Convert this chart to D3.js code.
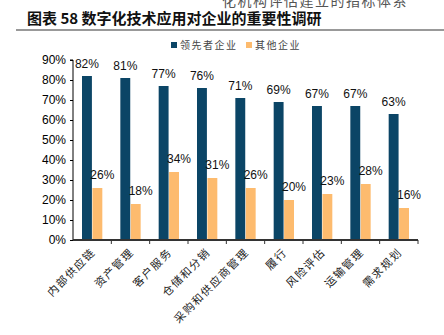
<!DOCTYPE html>
<html>
<head>
<meta charset="utf-8">
<script src="https://cdn.jsdelivr.net/npm/d3@7"></script>
<style>
  html, body { margin: 0; padding: 0; background: #fff; }
  svg { display: block; }
</style>
</head>
<body>
<svg id="chart" width="444" height="335"></svg>
<script>
// Survey categories and the share of firms rating each digital application as important
const categories = ["内部供应链", "资产管理", "客户服务", "仓储和分销", "采购和供应商管理", "履行", "风险评估", "运输管理", "需求规划"];
const leaders = [82, 81, 77, 76, 71, 69, 67, 67, 63];
const others = [26, 18, 34, 31, 26, 20, 23, 28, 16];
const seriesNames = ["领先者企业", "其他企业"];
const yTicks = [0, 10, 20, 30, 40, 50, 60, 70, 80, 90];

const colors = ["#0b4566", "#fdbb6e"];
const font = "'Liberation Sans', Arial, sans-serif";
const cjk = "'Noto Sans CJK SC', sans-serif";

const svg = d3.select("#chart");

// Page running head, partly above the top edge
svg.append("text")
  .attr("x", 222).attr("y", 6)
  .attr("font-family", cjk).attr("font-size", 14)
  .attr("letter-spacing", 1.5)
  .attr("fill", "#555")
  .text("化机构评估建立的指标体系");

// Figure title and rule
svg.append("text")
  .attr("x", 27).attr("y", 24)
  .attr("font-family", cjk).attr("font-size", 15).attr("font-weight", "bold")
  .attr("fill", "#111")
  .text("图表 58 数字化技术应用对企业的重要性调研");
svg.append("line")
  .attr("x1", 16).attr("x2", 444).attr("y1", 30).attr("y2", 30)
  .attr("stroke", "#999").attr("stroke-width", 2);

const plot = { left: 73, right: 418, top: 60, bottom: 240 };

const x = d3.scaleBand().domain(categories).range([plot.left, plot.right]).paddingInner(0.47).paddingOuter(0.235);
const xs = d3.scaleBand().domain([0, 1]).range([0, x.bandwidth()]).paddingInner(0.05);
const y = d3.scaleLinear().domain([0, 90]).range([plot.bottom, plot.top]);

// Y axis
const yAxis = d3.axisLeft(y).tickValues(yTicks).tickFormat(d => d + "%").tickSize(3).tickPadding(4);
const gy = svg.append("g").attr("transform", `translate(${plot.left},0)`).call(yAxis);
gy.select(".domain").attr("stroke", "#000").attr("d", `M-3,${plot.top}H0V${plot.bottom}`);
gy.selectAll(".tick line").attr("stroke", "#000");
gy.selectAll("text").attr("font-family", font).attr("font-size", 12).attr("fill", "#000");

// Bars
const groups = svg.append("g").selectAll("g")
  .data(categories)
  .join("g")
  .attr("transform", d => `translate(${x(d)},0)`);

[leaders, others].forEach((vals, s) => {
  groups.append("rect")
    .attr("x", xs(s))
    .attr("width", xs.bandwidth())
    .attr("y", (d, i) => y(vals[i]))
    .attr("height", (d, i) => y(0) - y(vals[i]))
    .attr("fill", colors[s]);
  groups.append("text")
    .attr("x", xs(s) + xs.bandwidth() / 2 + (s === 1 ? 5 : 0))
    .attr("y", (d, i) => y(vals[i]) - (s === 0 ? 8 : 9))
    .attr("text-anchor", "middle")
    .attr("font-family", font).attr("font-size", 12).attr("fill", "#111")
    .text((d, i) => vals[i] + "%");
});

// X axis with ticks between categories
const gx = svg.append("g");
gx.append("line")
  .attr("x1", plot.left).attr("x2", plot.right)
  .attr("y1", plot.bottom).attr("y2", plot.bottom)
  .attr("stroke", "#333").attr("stroke-width", 2);
gx.selectAll(".tk")
  .data(d3.range(1, categories.length + 1))
  .join("line")
  .attr("x1", i => plot.left + i * (plot.right - plot.left) / categories.length)
  .attr("x2", i => plot.left + i * (plot.right - plot.left) / categories.length)
  .attr("y1", plot.bottom).attr("y2", plot.bottom + 4)
  .attr("stroke", "#333");

gx.selectAll(".xl")
  .data(categories)
  .join("text")
  .attr("transform", d => `translate(${x(d) + x.bandwidth() / 2 + 4},${plot.bottom + 13}) rotate(-45)`)
  .attr("text-anchor", "end")
  .attr("font-family", cjk).attr("font-size", 11).attr("fill", "#222")
  .attr("letter-spacing", 1.5)
  .text(d => d);

// Legend
const legend = svg.append("g").attr("transform", "translate(171,40)");
const lx = [0, 75];
seriesNames.forEach((n, i) => {
  legend.append("rect").attr("x", lx[i]).attr("y", 2).attr("width", 6).attr("height", 6).attr("fill", colors[i]);
  legend.append("text").attr("x", lx[i] + 9).attr("y", 9)
    .attr("font-family", cjk).attr("font-size", 10).attr("fill", "#444")
    .attr("letter-spacing", 1.5)
    .text(n);
});
</script>
</body>
</html>
